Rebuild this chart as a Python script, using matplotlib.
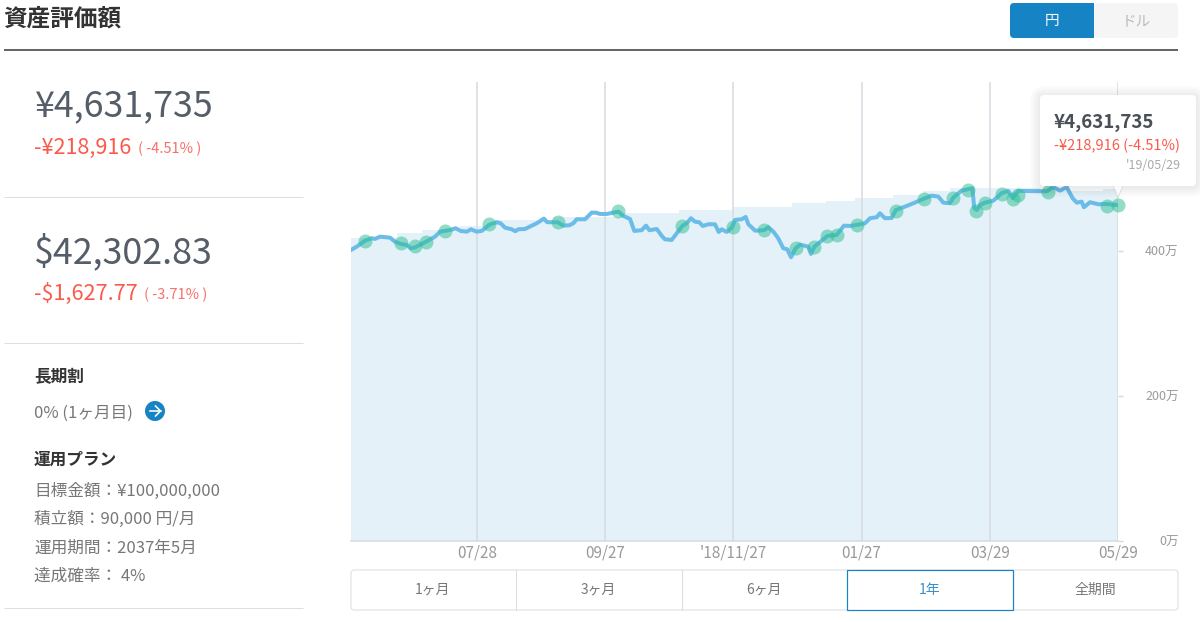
import matplotlib
matplotlib.use("Agg")
import matplotlib.pyplot as plt
from matplotlib.patches import FancyBboxPatch, Circle, Polygon, Rectangle
from matplotlib.transforms import ScaledTranslation

plt.rcParams['font.family'] = ['Noto Sans CJK JP', 'DejaVu Sans']

# ---- data (days since 2018-05-29, values in 万円) ----
line_days = [0,2.7,6.7,9.9,11.4,13.8,18.6,20.9,23.7,26.5,28.4,30.6,35.7,40,42.4,44.6,47.4,49.8,52.2,55.1,57.1,59.8,62.2,65.7,69.3,71.2,73.3,76.5,78.2,79.6,82.8,86,88.4,91.8,93.4,98.4,101,103.9,105.8,107.4,111.4,114.5,116.6,118.5,121.7,127.2,129.6,132.8,134.8,138.3,140.4,142,145.5,147.9,149.4,152.6,157.7,159.8,161.8,163.7,165.7,167.4,170,173.2,175,176.4,178.8,181.4,182.7,185.9,187.8,189.1,192.3,196.5,198.6,201,203.3,205.7,207.6,209.4,211.6,213.7,217.6,218.9,220.5,224,226.7,231.1,234.6,237.5,240.7,244.6,247,250.2,251.7,254.1,257.3,259.3,263.6,267.6,272.7,276.3,279.5,281.9,285,286.6,290.6,293.5,295.7,296.6,297.8,299.3,301.7,305.7,309.6,312.8,314.9,317.5,331.1,334.2,337.4,340.6,343.4,345.4,347.7,348.8,351.7,355.6,359.6,365]
line_vals = [401.4,405.9,414.2,417.5,416.6,419.7,418.3,412.8,409.7,408.3,403.7,405.1,412.8,419.7,426.6,427.6,429,431.3,427.6,426.6,429.9,426.6,427.6,435.9,439.6,438.2,432.1,429.9,427.2,429.9,430.3,434.9,438.2,444.6,439.6,439.6,434.9,435.4,438.2,443.7,443.7,452.8,452.8,451,451,454.2,448.3,444.1,427.6,428.6,434.9,428.6,430.3,420.7,416.1,415.2,434.5,438.2,445.1,440.4,439.6,434.5,436.8,436.8,426.2,429.9,426.2,432.7,442.8,443.7,446.9,436.8,428,428.6,432.7,426.6,417.5,403.7,402.3,391.3,403.7,408.7,405.9,395.9,405.9,414.2,420.7,422.1,434.9,434.5,435.9,438.2,445.1,446.5,452,445.1,445.5,456.6,461.1,465.8,472.1,476.3,474.9,466.6,465.8,473.5,483.2,485.1,486.5,458.9,456.6,463.4,466.6,469.4,479.6,482.8,472.7,482.8,482.3,487.9,483.2,487.9,472.7,466.6,468,460.3,467.2,464.4,464.8,463.2]

deposit_days = [6.7,23.7,30.6,35.7,44.6,65.7,98.4,127.2,157.7,181.6,196.7,211.6,220.5,226.5,231.4,240.7,259.3,272.7,286.6,293.5,297.6,301.7,309.6,314.9,317.5,331.6,359.6,365]
deposit_vals = [414.2,411.4,406.5,412.8,428,437.2,439.6,454.8,434.5,432.7,428.6,403.7,405.9,420.7,421.7,435.9,455.2,471.7,473.5,484.1,455.6,466.6,479,471.7,476.8,481.8,462.1,463.2]

principal_days = [0,22,34,52,69,96,128,156,182,210,226,240,258,272,285,328,358,365]
principal_vals = [417.5,424.1,429,434.5,442.8,447.3,452.4,456.6,460,465.5,469,472.7,477.2,482,486.2,482.8,485.1,485.1]

x_tick_days = [60,121,182,243,304,365]
x_tick_labels = ['07/28','09/27',"'18/11/27",'01/27','03/29','05/29']
y_ticks = [0,200,400]
y_tick_labels = ['0万','200万','400万']
range_labels = ['1ヶ月','3ヶ月','6ヶ月','1年','全期間']

W, H = 1200, 622
px = 0.72
fig = plt.figure(figsize=(12, 6.22), dpi=100, facecolor='white')

# ---- chart ----
ax = fig.add_axes([351/W, 1-541/H, 767/W, 459/H])
ax.set_xlim(0, 365)
ax.set_ylim(0, 633)
for s in ['top','left','right']:
    ax.spines[s].set_visible(False)
ax.spines['bottom'].set_color('#d3dce2')
ax.spines['bottom'].set_linewidth(1.5*px)
ax.fill_between(principal_days, principal_vals, 0, step='post', color='#e4f1f9', lw=0, zorder=1)
ax.plot(line_days, line_vals, color='#6bbce9', lw=4*px, zorder=3, solid_joinstyle='round')
ax.scatter(deposit_days, deposit_vals, s=(14*px)**2, color='#30bf95', alpha=0.52, lw=0, zorder=4, clip_on=False)
ax.set_axisbelow(False)
ax.xaxis.grid(True, color='#d5dbe0', lw=1.5*px, zorder=2)
ax.set_xticks(x_tick_days, x_tick_labels)
ax.tick_params(axis='x', length=0, pad=2.5, labelsize=11, labelcolor='#9a9a9a')
ax.yaxis.tick_right()
ax.set_yticks(y_ticks, y_tick_labels)
ax.tick_params(axis='y', length=3.6, width=1, color='#d5dbe0', pad=40, labelsize=9, labelcolor='#9a9a9a')
lift = ScaledTranslation(0, 0.5/100, fig.dpi_scale_trans)
for t in ax.get_yticklabels():
    t.set_ha('right')
    t.set_transform(t.get_transform() + lift)

# ---- page furniture, in pixel coordinates ----
ui = fig.add_axes([0, 0, 1, 1], zorder=5)
ui.set_xlim(0, W)
ui.set_ylim(H, 0)
ui.axis('off')
ui.patch.set_alpha(0)

def T(x, y, s, size, color, weight='normal', ha='left', **kw):
    ui.text(x, y, s, fontsize=size, color=color, fontweight=weight, ha=ha, va='center', **kw)

def hline(y, x0, x1, color, w=1.0):
    ui.plot([x0, x1], [y, y], color=color, lw=w*px, solid_capstyle='butt')

T(3, 19, '資産評価額', 17, '#333333', 'bold')
hline(49.5, 4, 1178, '#666666', 2)

ui.add_patch(FancyBboxPatch((1010, 3), 84, 35, boxstyle='round,pad=0,rounding_size=4', fc='#1583c4', ec='none'))
ui.add_patch(FancyBboxPatch((1094, 3), 84, 35, boxstyle='round,pad=0,rounding_size=4', fc='#f5f5f5', ec='none'))
ui.add_patch(Rectangle((1088, 3), 6, 35, fc='#1583c4', ec='none'))
T(1052, 21, '円', 10.5, '#ffffff', ha='center')
T(1136, 21, 'ドル', 10.5, '#bbbbbb', ha='center')

grey_big = '#555e68'
red = '#fa5a4b'
T(34, 106, '¥4,631,735', 25.8, grey_big)
T(34, 148, '-¥218,916', 15.5, red)
T(138, 149, '( -4.51% )', 10.5, '#f8706a')
hline(196.5, 4, 303, '#dedede')
T(34, 252, '$42,302.83', 25.8, grey_big)
T(34, 294, '-$1,627.77', 15.6, red)
T(144, 295, '( -3.71% )', 10.5, '#f8706a')
hline(343, 4, 303, '#dedede')

T(34, 377, '長期割', 12, '#333333', 'bold')
T(34, 413, '0% (1ヶ月目)', 12, '#777777')
ui.add_patch(Circle((155, 411), 10, fc='#1583c4', ec='none'))
ui.plot([149.5, 160.5], [411, 411], color='white', lw=1.6*px)
ui.plot([155.5, 160.5, 155.5], [406, 411, 416], color='white', lw=1.6*px)
T(34, 460, '運用プラン', 12, '#333333', 'bold')
T(34, 491, '目標金額：¥100,000,000', 12, '#777777')
T(34, 519, '積立額：90,000 円/月', 12, '#777777')
T(34, 548, '運用期間：2037年5月', 12, '#777777')
T(34, 576, '達成確率： 4%', 12, '#777777')
hline(608, 4, 303, '#dedede')

# range selector
ui.add_patch(FancyBboxPatch((351, 570), 827, 40, boxstyle='round,pad=0,rounding_size=3', fc='white', ec='#dddddd', lw=1.0*px))
for xd in (516, 682):
    ui.plot([xd, xd], [570, 610], color='#dddddd', lw=1.0*px)
ui.add_patch(Rectangle((847, 570), 166, 40, fc='white', ec='#1583c4', lw=1.2*px))
for xc, lab in zip((433, 598, 764, 930, 1095), range_labels):
    T(xc, 590, lab, 10, '#3a8fc9' if lab == '1年' else '#777777', ha='center')

# tooltip
for i in range(10, 0, -1):
    ui.add_patch(FancyBboxPatch((1040-i, 95-i+1), 156+2*i, 91+2*i, boxstyle='round,pad=0,rounding_size=%d' % (4+i),
                                fc='#000000', alpha=0.008, ec='none'))
ui.add_patch(Polygon([(1113, 185), (1118, 198), (1123, 185)], closed=True, fc='white', ec='#cfcfcf', lw=0.8*px, alpha=0.8))
ui.add_patch(FancyBboxPatch((1040, 95), 156, 91, boxstyle='round,pad=0,rounding_size=4', fc='white', ec='none'))
T(1054, 122, '¥4,631,735', 13.5, '#4a4f55', 'bold')
T(1054, 145.5, '-¥218,916 (-4.51%)', 10.5, red)
T(1181, 165.5, "'19/05/29", 9, '#aaaaaa', ha='right')

fig.savefig('out.png', dpi=100)
